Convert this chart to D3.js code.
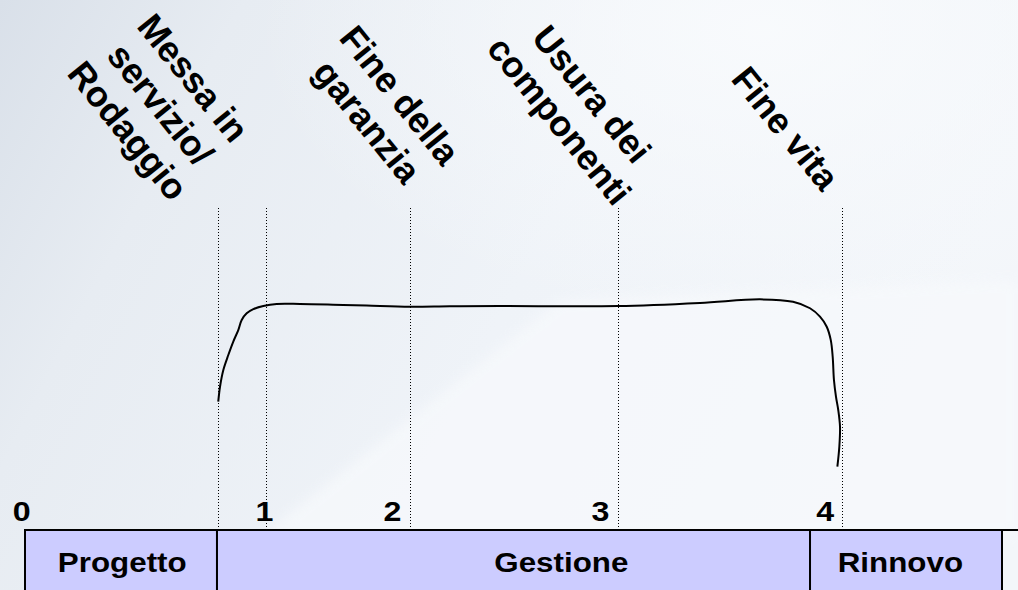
<!DOCTYPE html>
<html><head><meta charset="utf-8">
<script src="https://cdn.jsdelivr.net/npm/d3@7"></script>
<style>
html,body{margin:0;padding:0;overflow:hidden;background:#eef2f7;}
svg{display:block;font-family:Arial,"Liberation Sans",sans-serif;}
</style></head>
<body>
<svg id="chart" width="1018" height="590"></svg>
<script>
// ---- data (x in % of the timeline, y in % of the curve level) ----
const phases = ["Progetto", "Gestione", "Rinnovo"];
const phaseStart = [0, 19.65, 80.35];
const phaseEnd = [19.65, 80.35, 100];
const phaseLabelX = [9.95, 54.9, 89.6];

const milestones = [
  ["Messa in", "servizio/", "Rodaggio"],
  ["Fine della", "garanzia"],
  ["Usura dei", "componenti"],
  ["Fine vita"]
];
const milestoneX = [19.75, 39.41, 60.7, 83.62];
const extraLineX = [24.67];

const tickLabels = ["0", "1", "2", "3", "4"];
const tickX = [-0.35, 24.5, 37.6, 58.9, 81.9];

const curveX = [19.78, 19.96, 20.3, 20.81, 21.32, 21.83, 22.18, 22.69, 23.37, 24.39, 25.76, 28.15, 31.53, 34.97, 39.41, 43.5, 48.62, 60.7, 69.09, 75.23, 78.61, 80.35, 81.37, 82.06, 82.47, 82.67, 82.8, 83.01, 83.24, 83.42, 83.35, 83.15];
const curveY = [53.46, 59.7, 66.7, 72.9, 78.5, 83.3, 87.5, 90.3, 92.0, 93.3, 94.2, 94.2, 93.9, 93.5, 93.0, 93.2, 93.3, 93.3, 94.6, 96.1, 95.1, 92.4, 88.9, 84.7, 79.2, 72.2, 62.5, 55.5, 50.0, 43.0, 34.7, 26.4];

// ---- layout ----
const W = 1018, H = 590;
const svg = d3.select("#chart");
const x = d3.scaleLinear().domain([0, 100]).range([25, 1002]);
const y = d3.scaleLinear().domain([0, 100]).range([530, 290]);
const boxTop = 530, lineTop = 208, lineBottom = 528;

// background
const defs = svg.append("defs");
const g1 = defs.append("linearGradient").attr("id", "bg").attr("x1", 0).attr("y1", 0).attr("x2", 1).attr("y2", 0.3);
g1.append("stop").attr("offset", 0).attr("stop-color", "#d9e0e9");
g1.append("stop").attr("offset", 0.22).attr("stop-color", "#e7ecf2");
g1.append("stop").attr("offset", 0.6).attr("stop-color", "#eff3f8");
g1.append("stop").attr("offset", 1).attr("stop-color", "#f3f6fa");
svg.append("rect").attr("width", W).attr("height", H).attr("fill", "url(#bg)");
const g2 = defs.append("radialGradient").attr("id", "glow").attr("cx", 0.75).attr("cy", 0.05).attr("r", 0.5);
g2.append("stop").attr("offset", 0).attr("stop-color", "#f9fbfd").attr("stop-opacity", 0.9);
g2.append("stop").attr("offset", 1).attr("stop-color", "#f9fbfd").attr("stop-opacity", 0);
svg.append("rect").attr("width", W).attr("height", H).attr("fill", "url(#glow)");
defs.append("filter").attr("id", "soft").append("feGaussianBlur").attr("stdDeviation", 6);
svg.append("path")
  .attr("d", "M262,535 L560,300 L1018,280 L1018,535 Z")
  .attr("fill", "#f7f9fc").attr("opacity", 0.75).attr("filter", "url(#soft)");

// phase boxes
svg.append("g").selectAll("rect").data(phases).join("rect")
  .attr("x", (d, i) => x(phaseStart[i]))
  .attr("y", boxTop)
  .attr("width", (d, i) => x(phaseEnd[i]) - x(phaseStart[i]))
  .attr("height", 80)
  .attr("fill", "#ccccff")
  .attr("stroke", "#000").attr("stroke-width", 2);
svg.append("line").attr("x1", x(100)).attr("x2", W).attr("y1", boxTop).attr("y2", boxTop)
  .attr("stroke", "#000").attr("stroke-width", 2);

svg.append("g").selectAll("text").data(phases).join("text")
  .attr("transform", (d, i) => `translate(${x(phaseLabelX[i])},572) scale(1.12,1)`)
  .attr("text-anchor", "middle")
  .attr("font-size", 28).attr("font-weight", "bold").attr("fill", "#000")
  .text(d => d);

// dotted vertical lines
const allLines = milestoneX.concat(extraLineX);
svg.append("g").selectAll("line").data(allLines).join("line")
  .attr("x1", d => Math.round(x(d)) + 0.5).attr("x2", d => Math.round(x(d)) + 0.5)
  .attr("y1", lineTop).attr("y2", lineBottom)
  .attr("stroke", "#000").attr("stroke-width", 1).attr("stroke-dasharray", "1,2");

// tick labels
svg.append("g").selectAll("text").data(tickLabels).join("text")
  .attr("transform", (d, i) => `translate(${x(tickX[i])},521) scale(1.15,1)`)
  .attr("text-anchor", "middle")
  .attr("font-size", 28).attr("font-weight", "bold").attr("fill", "#000")
  .text(d => d);

// curve
const pts = curveX.map((v, i) => [x(v), y(curveY[i])]);
svg.append("path").attr("d", d3.line().curve(d3.curveCatmullRom.alpha(0.5))(pts))
  .attr("fill", "none").attr("stroke", "#000").attr("stroke-width", 2);

// rotated milestone labels
const labelAnchor = [[161, 104], [384, 108], [576, 107], [786, 128]];
const lh = 42;
const lg = svg.append("g");
milestones.forEach((lines, i) => {
  const t = lg.append("text")
    .attr("transform", `translate(${labelAnchor[i][0]},${labelAnchor[i][1]}) rotate(51)`)
    .attr("text-anchor", "middle")
    .attr("font-size", 36).attr("font-weight", "bold").attr("fill", "#000");
  const n = lines.length;
  lines.forEach((s, k) => {
    t.append("tspan").attr("x", 0)
      .attr("y", (k - (n - 1) / 2) * lh + 13)
      .text(s);
  });
});
</script>
</body></html>
